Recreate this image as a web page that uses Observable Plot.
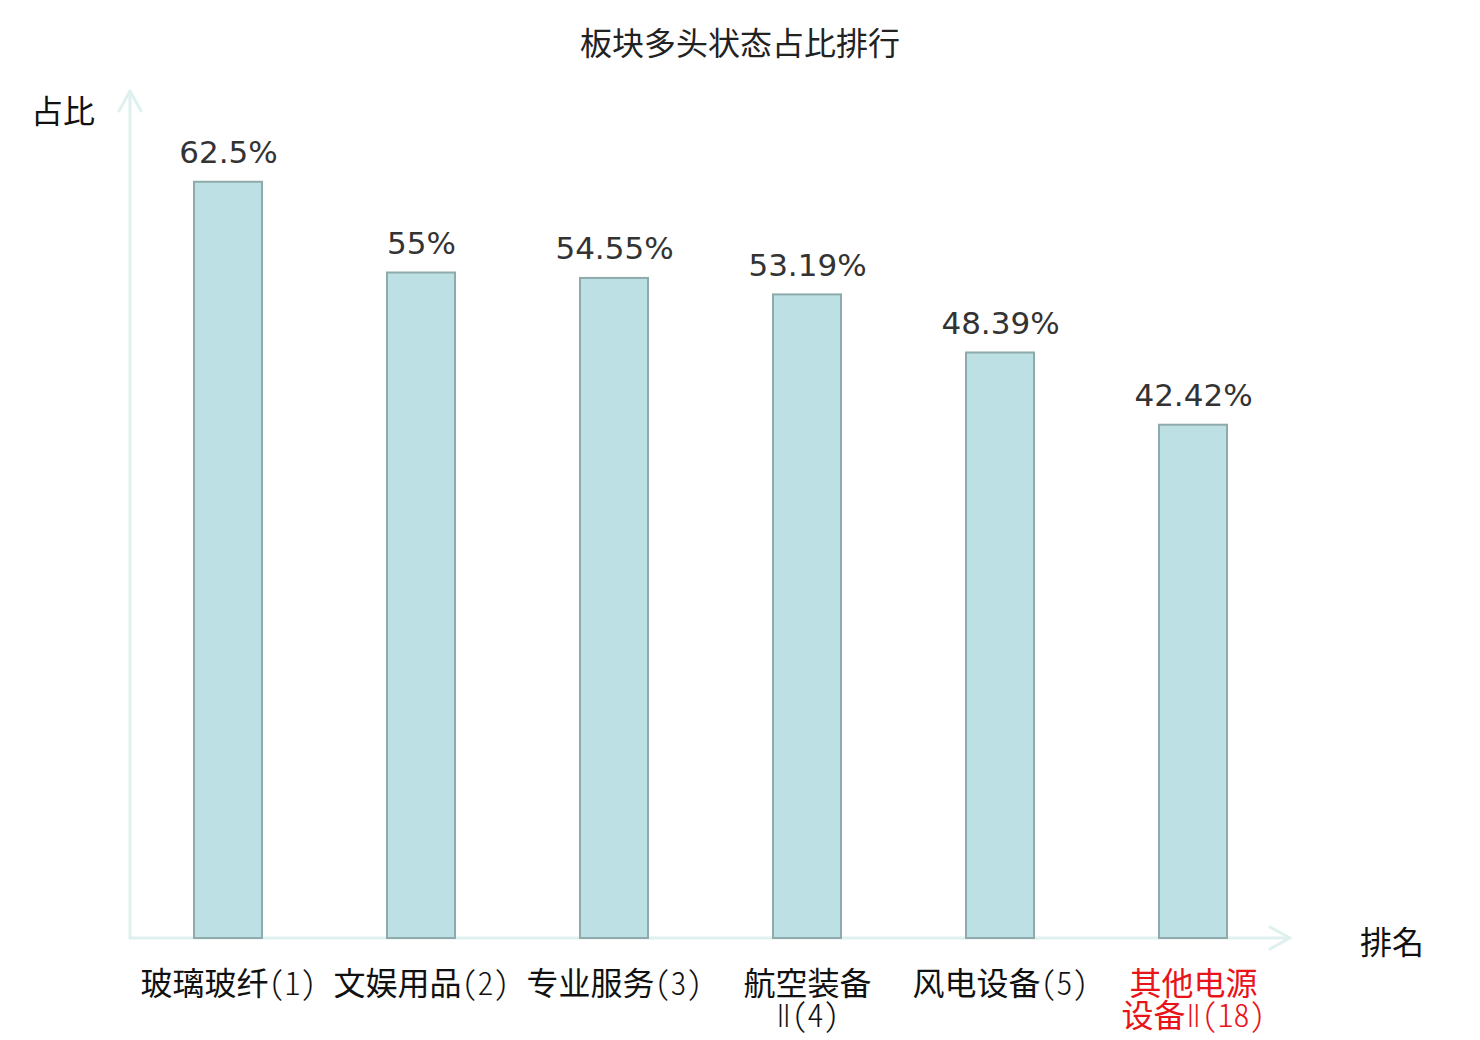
<!DOCTYPE html>
<html>
<head>
<meta charset="utf-8">
<script src="https://cdn.jsdelivr.net/npm/d3@7"></script>
<script src="https://cdn.jsdelivr.net/npm/@observablehq/plot@0.6"></script>
<style>
  html, body { margin: 0; padding: 0; background: #fff; }
  #wrap { position: relative; width: 1480px; height: 1040px; }
  .lbl { position: absolute; font-family: "Noto Sans CJK JP", "Noto Sans CJK SC", sans-serif; font-size: 32px; color: #111; line-height: 1; white-space: nowrap; }
  #title { left: 0; width: 1480px; text-align: center; top: 25px; font-size: 32px; color: #222; }
  #ylab { left: 31px; top: 93px; }
  #xlab { left: 1360px; top: 924px; }
  .ticklbl text { font-feature-settings: "hwid"; }
  .lat { font-weight: 300; }
  .rom { font-family: "DejaVu Sans", sans-serif; font-weight: 200; }
</style>
</head>
<body>
<div id="wrap">
  <div id="title" class="lbl">板块多头状态占比排行</div>
  <div id="ylab" class="lbl">占比</div>
  <div id="xlab" class="lbl">排名</div>
</div>
<script>
const categories = ["玻璃玻纤(1)", "文娱用品(2)", "专业服务(3)", "航空装备Ⅱ(4)", "风电设备(5)", "其他电源设备Ⅱ(18)"];
const tickLabels = ["玻璃玻纤(1)", "文娱用品(2)", "专业服务(3)", "航空装备\nⅡ(4)", "风电设备(5)", "其他电源\n设备Ⅱ(18)"];
const values = [62.5, 55, 54.55, 53.19, 48.39, 42.42];
const valueLabels = ["62.5%", "55%", "54.55%", "53.19%", "48.39%", "42.42%"];
const highlighted = [false, false, false, false, false, true];
const yDomain = [0, 70];

const data = categories.map((name, i) => ({
  name, value: values[i], label: valueLabels[i], tick: tickLabels[i], hi: highlighted[i]
}));

const axisColor = "#dff1ef";

const plot = Plot.plot({
  width: 1480,
  height: 1040,
  marginTop: 91,
  marginBottom: 102,
  marginLeft: 130,
  marginRight: 190,
  style: { background: "transparent", overflow: "visible" },
  x: { domain: categories, paddingInner: 0.65, paddingOuter: 0.325, axis: null },
  y: { domain: yDomain, axis: null },
  marks: [
    Plot.barY(data, { x: "name", y: "value", fill: "#bce0e3", stroke: "#8eaaaa", strokeWidth: 2 }),
    Plot.text(data, {
      x: "name", y: "value", text: "label", dy: -19, lineAnchor: "bottom",
      fontSize: 31, fill: "#333", fontFamily: "DejaVu Sans, sans-serif"
    }),
    Plot.text(data, {
      x: "name", text: "tick", frameAnchor: "bottom", lineAnchor: "top", dy: 33,
      lineHeight: 1.02, fontSize: 32, fontFamily: "Noto Sans CJK JP, Noto Sans CJK SC, sans-serif",
      fill: d => d.hi ? "#e8141a" : "#111", className: "ticklbl"
    })
  ]
});

// axes with arrowheads, positioned through the plot's own scales
const xs = plot.scale("x"), ys = plot.scale("y");
const x0 = xs.range[0], x1 = xs.range[1];
const yb = ys.apply(yDomain[0]), yt = ys.apply(yDomain[1]);
const svg = d3.select(plot);
const g = svg.append("g")
  .attr("fill", "none").attr("stroke", axisColor).attr("stroke-width", 3)
  .attr("stroke-linecap", "round").attr("stroke-linejoin", "round");
g.append("line").attr("x1", x0).attr("y1", yb).attr("x2", x0).attr("y2", yt);
g.append("polyline").attr("points", `${x0 - 11},${yt + 20} ${x0},${yt} ${x0 + 11},${yt + 20}`);
g.append("line").attr("x1", x0).attr("y1", yb).attr("x2", x1).attr("y2", yb);
g.append("polyline").attr("points", `${x1 - 20},${yb - 11} ${x1},${yb} ${x1 - 20},${yb + 11}`);
const barG = svg.node().querySelector("g[aria-label='bar']");
if (barG) svg.node().insertBefore(g.node(), barG);

// style the Latin / Roman-numeral runs of the tick labels
const NS = "http://www.w3.org/2000/svg";
function splitRuns(el) {
  const s = el.textContent;
  while (el.firstChild) el.removeChild(el.firstChild);
  for (const part of s.split(/([\u2160-\u217F]+|[\x20-\x7E]+)/)) {
    if (!part) continue;
    const t = document.createElementNS(NS, "tspan");
    if (/^[\u2160-\u217F]+$/.test(part)) t.setAttribute("class", "rom");
    else if (/^[\x20-\x7E]+$/.test(part)) t.setAttribute("class", "lat");
    t.textContent = part;
    el.appendChild(t);
  }
}
plot.querySelectorAll(".ticklbl text").forEach(text => {
  const lines = text.querySelectorAll("tspan");
  if (lines.length) lines.forEach(splitRuns); else splitRuns(text);
});

const wrap = document.getElementById("wrap");
plot.style.position = "absolute";
plot.style.left = "0";
plot.style.top = "0";
wrap.insertBefore(plot, wrap.firstChild);
</script>
</body>
</html>
